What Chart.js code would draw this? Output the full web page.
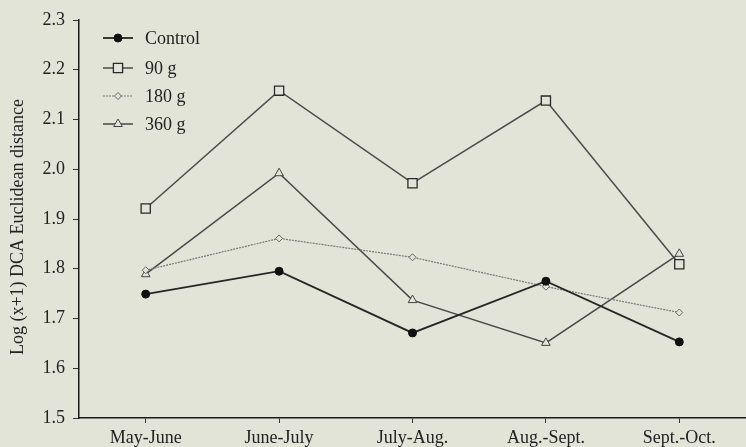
<!DOCTYPE html>
<html>
<head>
<meta charset="utf-8">
<script src="https://cdn.jsdelivr.net/npm/chart.js@4.4.1/dist/chart.umd.min.js"></script>
<style>
  html, body { margin: 0; padding: 0; background: #e2e4d8; }
  canvas { display: block; background: #e2e4d8; }
</style>
</head>
<body>
<canvas id="c" width="746" height="447"></canvas>
<script>
// Sampling periods and log(x+1) DCA Euclidean distances per treatment
const categories = ['May-June', 'June-July', 'July-Aug.', 'Aug.-Sept.', 'Sept.-Oct.'];
const control = [1.749, 1.795, 1.671, 1.775, 1.653];
const g90     = [1.921, 2.158, 1.972, 2.138, 1.809];
const g180    = [1.797, 1.861, 1.823, 1.764, 1.712];
const g360    = [1.789, 1.992, 1.737, 1.651, 1.830];
const yMin = 1.5, yMax = 2.3, yStep = 0.1;
const yTitle = 'Log (x+1) DCA Euclidean distance';

const FONT = 'Liberation Serif, Times New Roman, serif';
const BG = '#e2e4d8';
const TEXT = '#222';

function drawMarker(ctx, style, x, y, r, fill, stroke, lw) {
  ctx.save();
  ctx.beginPath();
  if (style === 'circle') {
    ctx.arc(x, y, r, 0, Math.PI * 2);
  } else if (style === 'rect') {
    const s = r * Math.SQRT1_2;
    ctx.rect(x - s, y - s, 2 * s, 2 * s);
  } else if (style === 'rectRot') {
    ctx.moveTo(x, y - r); ctx.lineTo(x + r, y); ctx.lineTo(x, y + r); ctx.lineTo(x - r, y);
    ctx.closePath();
  } else if (style === 'triangle') {
    ctx.moveTo(x, y - r); ctx.lineTo(x + r * 0.87, y + r * 0.5); ctx.lineTo(x - r * 0.87, y + r * 0.5);
    ctx.closePath();
  }
  ctx.fillStyle = fill; ctx.fill();
  ctx.lineWidth = lw; ctx.strokeStyle = stroke; ctx.setLineDash([]); ctx.stroke();
  ctx.restore();
}

// Legend drawn inside the plot, top-left, as line + marker samples
const legendRows = [38, 68, 96, 124];
const insetLegend = {
  id: 'insetLegend',
  afterDatasetsDraw(chart) {
    const ctx = chart.ctx;
    chart.data.datasets.forEach((ds, i) => {
      const y = legendRows[i];
      ctx.save();
      ctx.beginPath();
      ctx.strokeStyle = ds.borderColor;
      ctx.lineWidth = ds.borderWidth;
      ctx.setLineDash(ds.borderDash || []);
      ctx.moveTo(103, y); ctx.lineTo(133, y);
      ctx.stroke();
      ctx.restore();
      drawMarker(ctx, ds.pointStyle, 118, y, ds.pointRadius, ds.pointBackgroundColor, ds.pointBorderColor, ds.pointBorderWidth);
      ctx.save();
      ctx.font = '18px ' + FONT;
      ctx.fillStyle = TEXT;
      ctx.textBaseline = 'middle';
      ctx.textAlign = 'left';
      ctx.fillText(ds.label, 145, y + 1);
      ctx.restore();
    });
  }
};

// Rotated y-axis title, placed in the space left of the tick labels
const yAxisTitle = {
  id: 'yAxisTitle',
  afterDraw(chart) {
    const ctx = chart.ctx;
    ctx.save();
    ctx.translate(18, 227);
    ctx.rotate(-Math.PI / 2);
    ctx.font = '18px ' + FONT;
    ctx.fillStyle = TEXT;
    ctx.textAlign = 'center';
    ctx.textBaseline = 'middle';
    ctx.fillText(yTitle, 0, 0);
    ctx.restore();
  }
};

new Chart(document.getElementById('c'), {
  type: 'line',
  data: {
    labels: categories,
    datasets: [
      { label: 'Control', data: control, borderColor: '#262626', borderWidth: 1.8,
        pointStyle: 'circle', pointRadius: 4, pointBackgroundColor: '#111', pointBorderColor: '#111', pointBorderWidth: 1 },
      { label: '90 g', data: g90, borderColor: '#4c4c4c', borderWidth: 1.5,
        pointStyle: 'rect', pointRadius: 6.5, pointBackgroundColor: BG, pointBorderColor: '#2a2a2a', pointBorderWidth: 1.3 },
      { label: '180 g', data: g180, borderColor: '#777', borderWidth: 1.2, borderDash: [2, 1],
        pointStyle: 'rectRot', pointRadius: 3.5, pointBackgroundColor: BG, pointBorderColor: '#666', pointBorderWidth: 1 },
      { label: '360 g', data: g360, borderColor: '#484848', borderWidth: 1.5,
        pointStyle: 'triangle', pointRadius: 5, pointBackgroundColor: BG, pointBorderColor: '#444', pointBorderWidth: 1 }
    ]
  },
  options: {
    responsive: false,
    animation: false,
    devicePixelRatio: 1,
    layout: { autoPadding: false, padding: { top: 20, right: 0, bottom: 0, left: 0 } },
    elements: { line: { tension: 0 } },
    plugins: { legend: { display: false }, tooltip: { enabled: false } },
    scales: {
      x: {
        type: 'category',
        offset: true,
        afterFit(s) { s.height = 29; s.paddingLeft = 0; s.paddingRight = 0; },
        border: { display: true, color: '#1a1a1a', width: 1.5 },
        grid: { display: true, offset: false, drawOnChartArea: false, drawTicks: true, tickLength: 5, color: '#333', lineWidth: 1 },
        ticks: { color: TEXT, font: { family: FONT, size: 18 }, padding: 4, maxRotation: 0 }
      },
      y: {
        min: yMin, max: yMax,
        afterFit(s) { s.width = 79; },
        border: { display: true, color: '#1a1a1a', width: 1.5 },
        grid: { display: true, drawOnChartArea: false, drawTicks: true, tickLength: 6, color: '#333', lineWidth: 1 },
        ticks: { stepSize: yStep, color: TEXT, font: { family: FONT, size: 18 }, padding: 8,
                 callback: v => Number(v).toFixed(1) }
      }
    }
  },
  plugins: [insetLegend, yAxisTitle]
});
</script>
</body>
</html>
